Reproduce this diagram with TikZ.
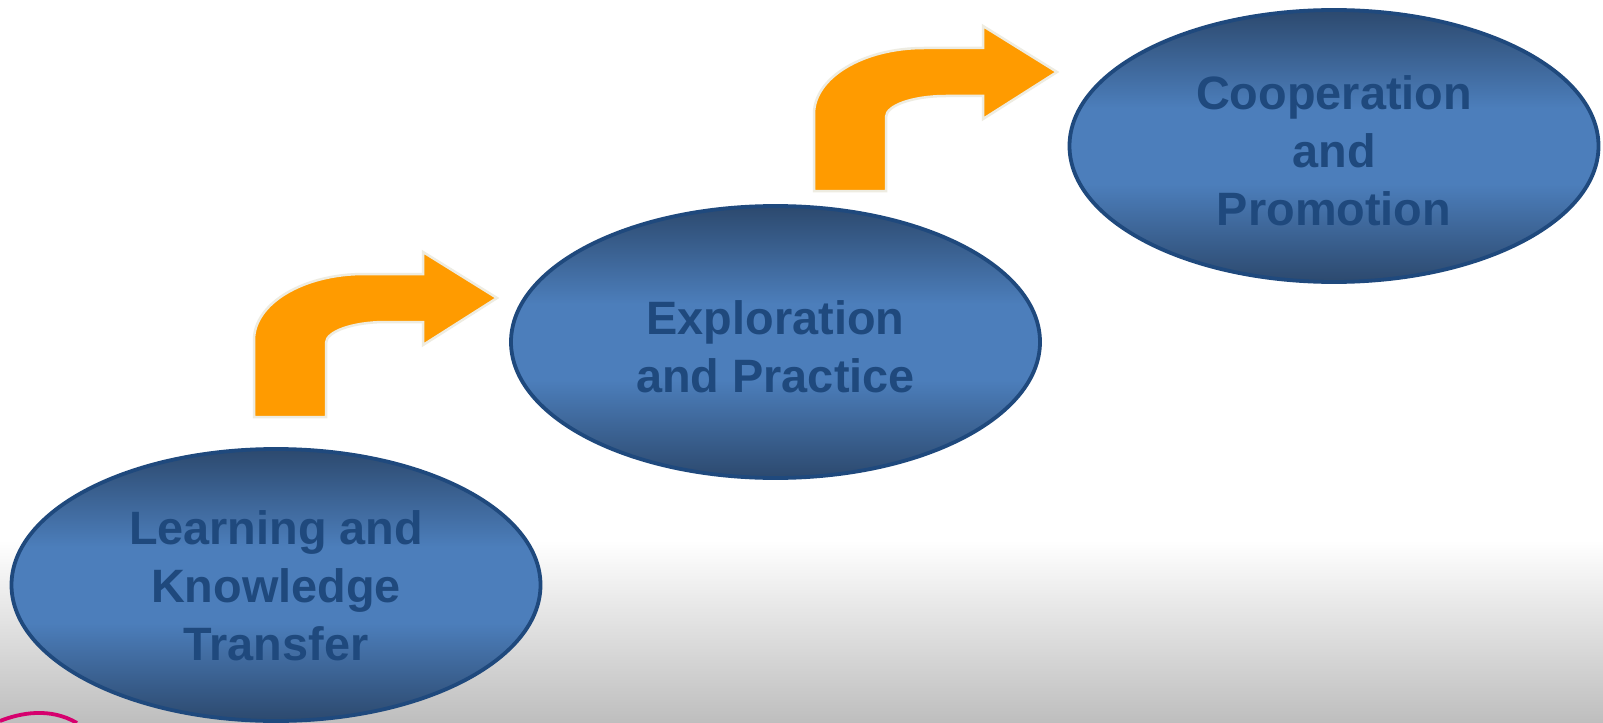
\documentclass[tikz,border=0pt]{standalone}
\usepackage{fontspec}
\setmainfont{Liberation Sans}
\usetikzlibrary{shapes.geometric}
\definecolor{ellborder}{RGB}{31,73,125}
\definecolor{elltext}{RGB}{31,73,125}
\definecolor{elldark}{RGB}{44,73,110}
\definecolor{ellmid}{RGB}{76,126,187}
\definecolor{arrowfill}{RGB}{255,155,0}
\definecolor{arrowedge}{RGB}{238,236,225}
\definecolor{logopink}{RGB}{214,0,110}
\definecolor{bggray}{RGB}{190,190,190}
\pgfdeclareverticalshading{ellshade}{100bp}{color(0bp)=(elldark); color(25bp)=(elldark); color(43bp)=(ellmid); color(57bp)=(ellmid); color(75bp)=(elldark); color(100bp)=(elldark)}
\begin{document}
\begin{tikzpicture}[x=1bp,y=-1bp,
  stage/.style={ellipse, draw=ellborder, line width=3.8bp, shading=ellshade,
    minimum width=529bp, minimum height=272bp, inner sep=0pt},
  stagetext/.style={align=center, inner sep=0pt, text=elltext,
    font=\bfseries\fontsize{47}{58}\selectfont},
  bentarrow/.style={fill=arrowfill, draw=arrowedge, line width=2.5bp, line join=miter},
  bentup/.pic={
    \draw[bentarrow] (0,0) -- (0,-77)
      .. controls (0,-113.5) and (49.2,-143) .. (110,-143)
      -- (169,-143) -- (169,-165) -- (243,-119) -- (169,-72) -- (169,-95) -- (132,-95)
      .. controls (98.9,-95) and (72,-85.6) .. (72,-74)
      -- (72,0) -- cycle;
  }
]
\useasboundingbox (0,0) rectangle (1603,723);
\fill[white] (0,0) rectangle (1603,723);
\shade[top color=white, bottom color=bggray] (0,540) rectangle (1603,723);

\coordinate (a1) at (254,417);
\coordinate (a2) at (814,191);
\pic at (a1) {bentup};
\pic at (a2) {bentup};

\node[stage] (learn) at (276,585) {};
\node[stage] (explore) at (775.5,342) {};
\node[stage] (coop) at (1334,146) {};

\node[stagetext] (learntext) at (276,586) {Learning and\\Knowledge\\Transfer};
\node[stagetext] (exploretext) at (775.5,347) {Exploration\\and Practice};
\node[stagetext] (cooptext) at (1334,151) {Cooperation\\and\\Promotion};

\draw[logopink, line width=3.8bp] (0,721) .. controls (20,713) and (50,707) .. (77,723);
\end{tikzpicture}
\end{document}
